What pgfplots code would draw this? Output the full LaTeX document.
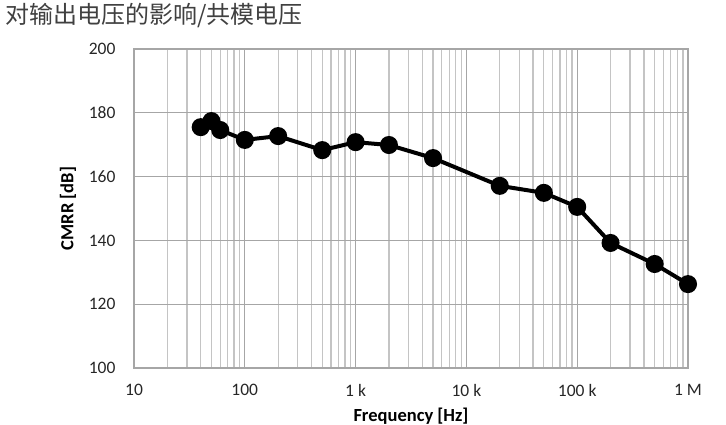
\documentclass[border=0pt]{standalone}
\usepackage{fontspec}
\setmainfont{Carlito}
\newfontfamily\cjk{Noto Sans CJK SC}
\usepackage{pgfplots}
\pgfplotsset{compat=1.18}
\definecolor{gridmin}{HTML}{C4C4C4}
\definecolor{gridmaj}{HTML}{A6A6A6}
\definecolor{txt}{HTML}{404040}
\begin{document}
\begin{tikzpicture}
\path[use as bounding box] (0,0) rectangle (726pt,425pt);
\node[anchor=base west, font=\cjk\fontsize{24}{26}\selectfont, text=txt, inner sep=0pt] at (5pt,401pt) {对输出电压的影响/共模电压};
\begin{axis}[
    at={(134pt,57pt)}, anchor=south west,
    scale only axis, width=554pt, height=319pt,
    xmode=log, log basis x=10,
    xmin=10, xmax=1e6, ymin=100, ymax=200,
    xtick={10,100,1000,10000,100000,1000000},
    xticklabels={10,100,1 k,10 k,100 k,1 M},
    minor xtick={20,30,40,50,60,70,80,90,
        200,300,400,500,600,700,800,900,
        2000,3000,4000,5000,6000,7000,8000,9000,
        20000,30000,40000,50000,60000,70000,80000,90000,
        200000,300000,400000,500000,600000,700000,800000,900000},
    ytick={100,120,...,200},
    major tick length=0pt, minor tick length=0pt,
    xmajorgrids, xminorgrids, ymajorgrids,
    major grid style={gridmaj, line width=1.3pt},
    minor grid style={gridmin, line width=1.3pt},
    axis line style={gridmaj, line width=1.3pt},
    /pgf/number format/assume math mode=true,
    ticklabel style={font=\fontsize{17.5}{19}\selectfont, text=black!85},
    xticklabel style={yshift=-13pt},
    yticklabel style={xshift=-15pt},
    xlabel={\textbf{Frequency [Hz]}},
    ylabel={\textbf{CMRR [dB]}},
    label style={font=\fontsize{18.5}{20}\selectfont},
    xlabel style={yshift=-4pt},
    ylabel style={yshift=6pt},
]
\addplot[black, line width=4pt, mark=*, mark size=7pt] coordinates {
    (40,175.5) (50,177.4) (60,174.6) (100,171.5) (200,172.7) (500,168.3)
    (1000,170.8) (2000,169.9) (5000,165.8) (20000,157.1) (50000,154.9)
    (100000,150.5) (200000,139.2) (500000,132.6) (1000000,126.3)
};
\end{axis}
\end{tikzpicture}
\end{document}
